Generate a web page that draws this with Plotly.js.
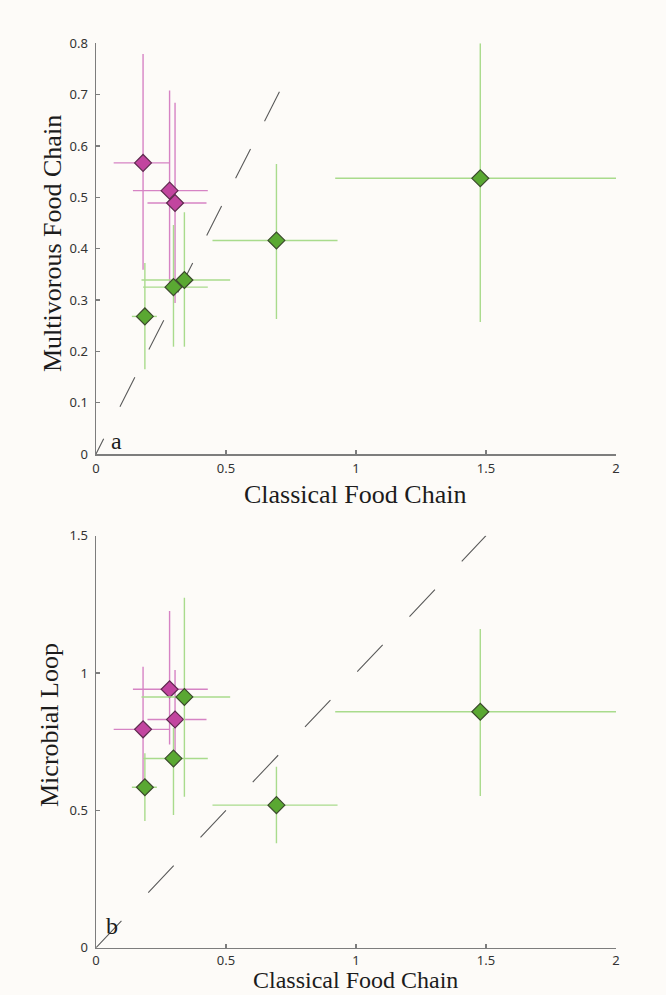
<!DOCTYPE html>
<html>
<head>
<meta charset="utf-8">
<script src="https://cdn.plot.ly/plotly-3.0.1.min.js"></script>
<style>
  html, body { margin: 0; padding: 0; background: #fdfbf8; }
  #chart { width: 666px; height: 995px; }
</style>
</head>
<body>
<div id="chart"></div>
<script>
// ---- Pink group: classical food chain (x) with ranges ----
const pinkClassical     = [0.181, 0.283, 0.304];
const pinkClassicalLow  = [0.068, 0.142, 0.198];
const pinkClassicalHigh = [0.284, 0.430, 0.425];

// Pink group: multivorous food chain (panel a)
const pinkMultivorous     = [0.567, 0.513, 0.489];
const pinkMultivorousLow  = [0.359, 0.330, 0.294];
const pinkMultivorousHigh = [0.779, 0.708, 0.684];

// Pink group: microbial loop (panel b)
const pinkMicrobial     = [0.795, 0.941, 0.831];
const pinkMicrobialLow  = [0.600, 0.740, 0.700];
const pinkMicrobialHigh = [1.023, 1.226, 1.011];

// ---- Green group: classical food chain (x) with ranges ----
const greenClassical     = [0.188, 0.298, 0.340, 0.694, 1.478];
const greenClassicalLow  = [0.138, 0.181, 0.175, 0.448, 0.920];
const greenClassicalHigh = [0.234, 0.430, 0.516, 0.929, 2.000];

// Green group: multivorous food chain (panel a)
const greenMultivorous     = [0.268, 0.325, 0.339, 0.416, 0.537];
const greenMultivorousLow  = [0.165, 0.209, 0.209, 0.263, 0.257];
const greenMultivorousHigh = [0.372, 0.446, 0.471, 0.565, 0.800];

// Green group: microbial loop (panel b)
const greenMicrobial     = [0.584, 0.689, 0.913, 0.519, 0.859];
const greenMicrobialLow  = [0.461, 0.483, 0.550, 0.380, 0.552];
const greenMicrobialHigh = [0.708, 0.800, 1.274, 0.659, 1.160];

// 1:1 reference lines
const diagA = [0, 0.72];
const diagB = [0, 1.5];

// Axis ticks
const xTicks  = [0, 0.5, 1, 1.5, 2];
const xLabels = ['0', '0.5', '1', '1.5', '2'];
const yTicksA  = [0, 0.1, 0.2, 0.3, 0.4, 0.5, 0.6, 0.7, 0.8];
const yLabelsA = ['0', '0.1', '0.2', '0.3', '0.4', '0.5', '0.6', '0.7', '0.8'];
const yTicksB  = [0, 0.5, 1, 1.5];
const yLabelsB = ['0', '0.5', '1', '1.5'];

const PINK = { fill: '#c2459f', edge: '#5e2a4e', bar: '#d683c4' };
const GREEN = { fill: '#5aa832', edge: '#3b4a2c', bar: '#a9db8c' };

function diff(a, b) { return a.map((v, i) => v - b[i]); }

function group(x, xLo, xHi, y, yLo, yHi, col, xa, ya) {
  return {
    type: 'scatter', mode: 'markers', x: x, y: y, xaxis: xa, yaxis: ya,
    showlegend: false, hoverinfo: 'skip', cliponaxis: false,
    marker: { symbol: 'diamond', size: 13, color: col.fill,
              line: { color: col.edge, width: 1.2 } },
    error_x: { type: 'data', symmetric: false,
               array: diff(xHi, x), arrayminus: diff(x, xLo),
               color: col.bar, thickness: 1.4, width: 0 },
    error_y: { type: 'data', symmetric: false,
               array: diff(yHi, y), arrayminus: diff(y, yLo),
               color: col.bar, thickness: 1.4, width: 0 }
  };
}

const traces = [
  { type: 'scatter', mode: 'lines', x: diagA, y: diagA, xaxis: 'x', yaxis: 'y',
    showlegend: false, hoverinfo: 'skip',
    line: { color: '#5a5a5a', width: 1.1,
            dash: '17px,36px,33px,31px,33px,31px,33px,31px,33px,31px,33px,31px,33px,31px' } },
  { type: 'scatter', mode: 'lines', x: diagB, y: diagB, xaxis: 'x2', yaxis: 'y2',
    showlegend: false, hoverinfo: 'skip',
    line: { color: '#5a5a5a', width: 1.1, dash: '37px,39px' } },
  group(pinkClassical, pinkClassicalLow, pinkClassicalHigh,
        pinkMultivorous, pinkMultivorousLow, pinkMultivorousHigh, PINK, 'x', 'y'),
  group(greenClassical, greenClassicalLow, greenClassicalHigh,
        greenMultivorous, greenMultivorousLow, greenMultivorousHigh, GREEN, 'x', 'y'),
  group(pinkClassical, pinkClassicalLow, pinkClassicalHigh,
        pinkMicrobial, pinkMicrobialLow, pinkMicrobialHigh, PINK, 'x2', 'y2'),
  group(greenClassical, greenClassicalLow, greenClassicalHigh,
        greenMicrobial, greenMicrobialLow, greenMicrobialHigh, GREEN, 'x2', 'y2')
];

const tickFont = { family: 'Noto Sans, Open Sans, sans-serif', size: 13, color: '#333333' };
const titleFont = { family: 'Liberation Serif, Times New Roman, serif', size: 26, color: '#1c1c1c' };

function axis(extra) {
  return Object.assign({
    showline: true, linecolor: '#7d7d7d', linewidth: 1.5,
    showgrid: false, zeroline: false, ticks: 'inside', ticklen: 4,
    tickcolor: '#7d7d7d', tickwidth: 1.2, tickfont: tickFont, fixedrange: true,
    mirror: false
  }, extra);
}

const xDom = [96 / 666, 616 / 666];

const layout = {
  width: 666, height: 995,
  margin: { l: 0, r: 0, t: 0, b: 0 },
  paper_bgcolor: '#fdfbf8', plot_bgcolor: '#fdfbf8',
  showlegend: false,
  xaxis: axis({ domain: xDom, range: [0, 2], anchor: 'y',
                tickvals: xTicks, ticktext: xLabels, ticklabelstandoff: 2 }),
  yaxis: axis({ domain: [(995 - 454) / 995, (995 - 43.3) / 995], range: [0, 0.8], anchor: 'x',
                tickvals: yTicksA, ticktext: yLabelsA, ticklabelstandoff: 4 }),
  xaxis2: axis({ domain: xDom, range: [0, 2], anchor: 'y2',
                 tickvals: xTicks, ticktext: xLabels, ticklabelstandoff: 0 }),
  yaxis2: axis({ domain: [(995 - 947.7) / 995, (995 - 535.7) / 995], range: [0, 1.5], anchor: 'x2',
                 tickvals: yTicksB, ticktext: yLabelsB, ticklabelstandoff: 4 }),
  annotations: [
    { text: 'Multivorous Food Chain', xref: 'paper', yref: 'paper',
      x: 52 / 666, y: (995 - 244) / 995, textangle: -90, showarrow: false,
      xanchor: 'center', yanchor: 'middle', font: titleFont },
    { text: 'Classical Food Chain', xref: 'paper', yref: 'paper',
      x: 355 / 666, y: (995 - 494) / 995, showarrow: false,
      xanchor: 'center', yanchor: 'middle', font: titleFont },
    { text: 'Microbial Loop', xref: 'paper', yref: 'paper',
      x: 50 / 666, y: (995 - 725) / 995, textangle: -90, showarrow: false,
      xanchor: 'center', yanchor: 'middle', font: titleFont },
    { text: 'Classical Food Chain', xref: 'paper', yref: 'paper',
      x: 355 / 666, y: (995 - 980) / 995, showarrow: false,
      xanchor: 'center', yanchor: 'middle',
      font: Object.assign({}, titleFont, { size: 24 }) },
    { text: 'a', xref: 'x', yref: 'y', x: 0.077, y: 0.025, showarrow: false,
      xanchor: 'center', yanchor: 'middle', font: Object.assign({}, titleFont, { size: 24 }) },
    { text: 'b', xref: 'x2', yref: 'y2', x: 0.062, y: 0.08, showarrow: false,
      xanchor: 'center', yanchor: 'middle', font: Object.assign({}, titleFont, { size: 24 }) }
  ]
};

Plotly.newPlot('chart', traces, layout, { staticPlot: true, displayModeBar: false });
</script>
</body>
</html>
